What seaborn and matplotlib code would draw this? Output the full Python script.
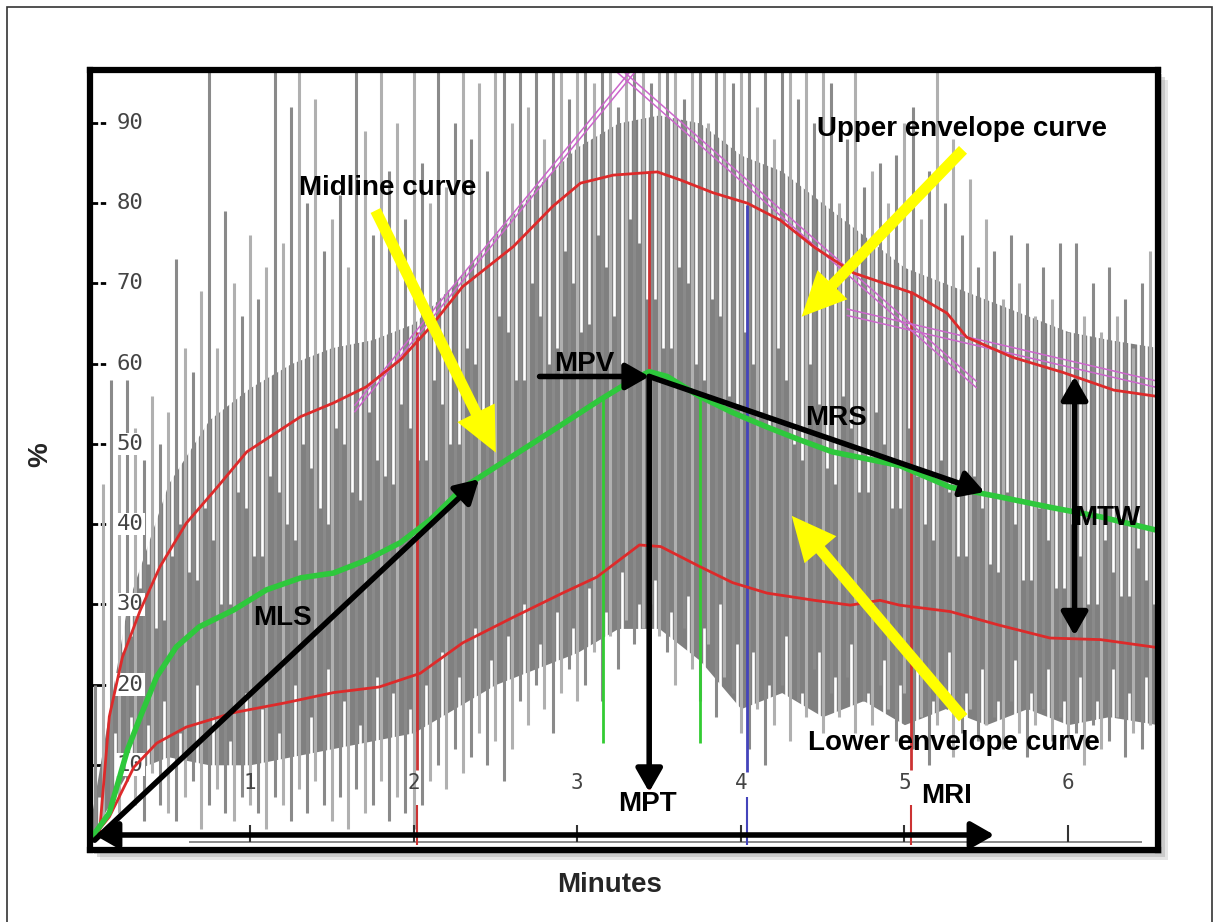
import numpy as np
import pandas as pd
import matplotlib
matplotlib.use("Agg")
import matplotlib.pyplot as plt
import seaborn as sns
from matplotlib.patches import Rectangle, FancyArrowPatch, ArrowStyle
from matplotlib.transforms import blended_transform_factory

# ---------------- data ----------------
# upper envelope curve (red)
upper_x = [0.0, 0.08, 0.14, 0.22, 0.33, 0.45, 0.61, 0.80, 0.98, 1.31, 1.51, 1.71, 1.92, 2.10, 2.30,
           2.61, 2.85, 3.02, 3.22, 3.49, 3.63, 3.83, 4.04, 4.24, 4.45, 4.69, 5.05, 5.26, 5.38, 5.66,
           5.97, 6.28, 6.55]
upper_y = [0.0, 1.5, 16.0, 23.4, 29.3, 34.7, 40.1, 44.6, 49.0, 53.4, 55.1, 57.1, 60.5, 64.5, 69.6,
           74.6, 79.6, 82.5, 83.5, 83.9, 82.9, 81.3, 80.0, 77.9, 74.5, 71.3, 68.8, 66.3, 63.3, 60.8,
           58.9, 56.7, 55.9]
# midline curve (green)
mid_x = [0.0, 0.14, 0.25, 0.33, 0.43, 0.55, 0.69, 0.90, 1.10, 1.31, 1.51, 1.71, 1.92, 2.10, 2.30,
         2.53, 2.83, 3.14, 3.34, 3.44, 3.55, 3.75, 3.95, 4.16, 4.36, 4.56, 4.97, 5.28, 5.58, 5.89,
         6.20, 6.55]
mid_y = [0.0, 4.0, 11.8, 16.0, 21.0, 24.7, 27.2, 29.3, 31.8, 33.3, 33.9, 35.5, 37.7, 40.5, 44.5,
         47.5, 51.4, 55.5, 58.0, 59.0, 58.4, 55.9, 53.9, 52.1, 50.5, 49.0, 47.3, 44.6, 43.4, 42.1,
         40.9, 39.2]
# lower envelope curve (red)
low_x = [0.0, 0.14, 0.29, 0.43, 0.61, 0.90, 1.21, 1.51, 1.79, 2.04, 2.30, 2.61, 2.91, 3.12, 3.38,
         3.51, 3.75, 3.95, 4.16, 4.45, 4.67, 4.85, 4.97, 5.28, 5.58, 5.89, 6.20, 6.55]
low_y = [0.0, 3.5, 9.7, 12.7, 14.7, 16.5, 17.7, 19.0, 19.7, 21.4, 25.2, 28.4, 31.4, 33.4, 37.4,
         37.2, 34.7, 32.7, 31.4, 30.5, 29.9, 30.5, 29.9, 29.1, 27.4, 25.8, 25.6, 24.6]

# dense grey core of the raw signal (every 0.25 min)
core_x = [0.0, 0.25, 0.5, 0.75, 1.0, 1.25, 1.5, 1.75, 2.0, 2.25, 2.5, 2.75, 3.0, 3.25, 3.5, 3.75,
          4.0, 4.25, 4.5, 4.75, 5.0, 5.25, 5.5, 5.75, 6.0, 6.25, 6.55]
core_hi = [0, 30, 45, 53, 57, 60, 62, 63, 65, 70, 76, 82, 87, 90, 91, 90, 86, 84, 80, 76, 72, 70,
           68, 66, 64, 63, 62]
core_lo = [0, 9, 11, 10, 10, 11, 12, 13, 14, 17, 20, 22, 24, 27, 27, 23, 17, 19, 16, 18, 15, 17,
           15, 17, 15, 16, 15]

# individual raw-signal spikes, one every 0.05 min from 0.05 to 6.50
spike_top = [20, 45, 58, 50, 58, 52, 48, 56, 50, 54,
             73, 62, 59, 69, 97, 62, 79, 70, 66, 76,
             68, 72, 97, 75, 92, 97, 80, 93, 74, 78,
             81, 72, 97, 89, 76, 97, 84, 90, 78, 97,
             85, 80, 97, 82, 90, 97, 88, 95, 84, 97,
             97, 90, 97, 92, 97, 88, 97, 97, 93, 97,
             97, 95, 97, 97, 92, 97, 97, 97, 95, 97,
             97, 97, 93, 97, 97, 90, 97, 97, 95, 97,
             97, 92, 97, 88, 97, 97, 93, 97, 90, 97,
             95, 80, 88, 97, 82, 84, 85, 80, 86, 90,
             92, 78, 84, 97, 80, 88, 76, 83, 72, 78,
             74, 68, 76, 70, 75, 66, 72, 68, 75, 64,
             75, 66, 70, 64, 72, 66, 68, 62, 70, 74]
spike_bot = [1, 3, 6, 4, 8, 5, 3, 9, 5, 4,
             3, 6, 8, 2, 5, 7, 4, 3, 6, 5,
             4, 2, 6, 5, 3, 7, 4, 8, 5, 3,
             6, 2, 7, 4, 5, 8, 3, 6, 4, 2,
             5, 8, 10, 7, 12, 9, 11, 14, 10, 13,
             8, 12, 18, 15, 20, 17, 14, 19, 22, 18,
             20, 24, 18, 26, 22, 28, 25, 27, 30, 26,
             24, 20, 27, 22, 18, 25, 16, 21, 19, 14,
             12, 17, 10, 15, 20, 13, 18, 16, 22, 14,
             19, 16, 21, 14, 18, 15, 20, 17, 13, 19,
             12, 16, 10, 15, 18, 11, 14, 17, 13, 15,
             16, 12, 18, 14, 11, 15, 17, 13, 16, 12,
             14, 10, 15, 12, 13, 16, 11, 14, 12, 15]
# white streaks cutting down into the grey core, one every 0.05 min from 0.075
gap_bot = [22, 18, 30, 24, 26, 32, 35, 27, 28, 36,
           40, 34, 33, 42, 38, 30, 30, 44, 42, 36,
           36, 46, 44, 40, 38, 50, 47, 42, 40, 52,
           50, 44, 43, 54, 48, 46, 45, 55, 52, 48,
           48, 58, 55, 50, 50, 62, 60, 54, 54, 66,
           64, 58, 58, 70, 66, 60, 62, 74, 70, 64,
           65, 76, 72, 66, 60, 78, 75, 68, 68, 62,
           62, 72, 70, 60, 58, 68, 66, 56, 55, 64,
           60, 54, 52, 62, 58, 50, 48, 60, 55, 47,
           45, 56, 52, 44, 44, 54, 50, 42, 42, 52,
           46, 40, 38, 48, 44, 36, 36, 46, 42, 35,
           34, 44, 40, 33, 33, 42, 38, 32, 32, 40,
           36, 30, 30, 38, 34, 31, 31, 37, 33, 30]
# white streaks rising into the grey core from below, one every 0.1 min from 0.075
gap_low = [6, 14, 16, 15, 18, 14, 20, 16, 13, 19,
           17, 14, 20, 16, 22, 18, 15, 21, 19, 17,
           20, 24, 21, 27, 23, 26, 30, 25, 29, 27,
           32, 29, 34, 30, 33, 29, 31, 27, 30, 25,
           24, 20, 26, 19, 24, 21, 25, 19, 23, 20,
           22, 18, 24, 19, 22, 18, 23, 19, 22, 18,
           21, 18, 22, 19, 21]

# straight-line fits (magenta)
fit_rise_x, fit_rise_y = [1.64, 3.42], [54.0, 98.0]
fit_fall_x, fit_fall_y = [3.15, 5.44], [98.0, 57.0]
fit_tail_x, fit_tail_y = [4.65, 6.55], [66.0, 57.0]

# event markers: (minute, bottom, top)
red_marks = [(2.02, 9.4, 64.0), (3.44, 7.0, 84.0), (5.04, 9.4, 69.0)]
green_marks = [(3.155, 12.7, 56.0), (3.75, 12.7, 55.6)]
blue_marks = [(4.04, 9.1, 79.8)]

y_ticks = [10, 20, 30, 40, 50, 60, 70, 80, 90]
x_ticks = [1, 2, 3, 4, 5, 6]

# ---------------- figure ----------------
sns.set_theme(style="white")
plt.rcParams["font.family"] = ["Liberation Sans", "DejaVu Sans"]

W, H = 1219, 922
fig = plt.figure(figsize=(W / 100, H / 100), dpi=100)
fig.patch.set_facecolor("white")

# outer frame of the figure
fig.patches.append(Rectangle((7 / W, -0.05), (1212 - 7) / W, 1.05 - 7 / H,
                             transform=fig.transFigure, fill=False, edgecolor="#333333",
                             lw=1.2, zorder=-2))
# drop shadow behind the plot box
for off, a in [(10, 0.25), (7, 0.35), (4, 0.45)]:
    fig.patches.append(Rectangle(((90 + off) / W, 1 - (850 + off) / H), (1158 - 90) / W,
                                 (850 - 70) / H, transform=fig.transFigure,
                                 facecolor="#9a9a9a", edgecolor="none", alpha=a, zorder=-1))

ax = fig.add_axes([90 / W, 1 - 850 / H, (1158 - 90) / W, (850 - 70) / H])
ax.set_facecolor("white")
ax.set_xlim(0.022, 6.55)
ax.set_ylim(-0.62, 96.6)

# raw signal
ax.fill_between(core_x, core_lo, core_hi, color="#808080", lw=0, zorder=1)
gap_x = np.round(0.075 + 0.05 * np.arange(len(gap_bot)), 3)
ax.vlines(gap_x, gap_bot, 100, color="white", lw=1.9, zorder=2)
gap_low_x = np.round(0.075 + 0.1 * np.arange(len(gap_low)), 3)
ax.vlines(gap_low_x, -1, gap_low, color="white", lw=1.9, zorder=2)
spike_x = np.round(0.05 * np.arange(1, len(spike_top) + 1), 2)
spike_cols = ["#8a8a8a" if i % 2 == 0 else "#b0b0b0" for i in range(len(spike_top))]
ax.vlines(spike_x, spike_bot, spike_top, colors=spike_cols, lw=2.2, zorder=3)

# bottom axis line and ticks of the original plot
ax.hlines(0.35, 0.63, 6.45, color="#777777", lw=1.2, zorder=4)
ax.vlines(x_ticks, 0.35, 2.5, color="#333333", lw=1.5, zorder=4)
for t in x_ticks:
    ax.text(t, 7.7, str(t), ha="center", va="center", fontsize=15,
            family="DejaVu Sans Mono", color="#444444", zorder=4)

# y ticks inside
ax.set_xticks([])
ax.set_yticks(y_ticks)
ax.set_yticklabels([])
ax.tick_params(axis="y", direction="in", length=12, width=2, color="black", left=True)
tr = blended_transform_factory(ax.transAxes, ax.transData)
for t in y_ticks:
    ax.text(0.025, t, str(t), transform=tr, ha="left", va="center", fontsize=16,
            family="DejaVu Sans Mono", color="#444444", zorder=6,
            bbox=dict(facecolor="white", edgecolor="none", pad=1.0))

# event markers
for xm, b, t in red_marks:
    ax.vlines(xm, b, t, color="#cc3333", lw=2, zorder=5)
for xm, b, t in green_marks:
    ax.vlines(xm, b, t, color="#33cc33", lw=2, zorder=5)
for xm, b, t in blue_marks:
    ax.vlines(xm, b, t, color="#4444bb", lw=2, zorder=5)
for xm in [red_marks[0][0], red_marks[2][0]]:
    ax.vlines(xm, 0, 5, color="#cc3333", lw=1.5, zorder=5)
ax.vlines(blue_marks[0][0], 0, 6, color="#4444bb", lw=1.5, zorder=5)

# magenta line fits (double thin lines)
for fx, fy in [(fit_rise_x, fit_rise_y), (fit_fall_x, fit_fall_y), (fit_tail_x, fit_tail_y)]:
    for dy in (0.0, 0.8):
        ax.plot(fx, [v + dy for v in fy], color="#cc66cc", lw=1.1, zorder=6)

# curves
sns.lineplot(x=upper_x, y=upper_y, ax=ax, color="#dd2a2a", lw=2.0, sort=False,
             estimator=None, zorder=7)
sns.lineplot(x=low_x, y=low_y, ax=ax, color="#dd2a2a", lw=2.0, sort=False,
             estimator=None, zorder=7)
sns.lineplot(x=mid_x, y=mid_y, ax=ax, color="#2ec83c", lw=4.0, sort=False,
             estimator=None, zorder=7)

# black measurement arrows
def black_arrow(p0, p1, style="-|>"):
    ax.annotate("", xy=p1, xytext=p0, zorder=9,
                arrowprops=dict(arrowstyle=style + ",head_length=0.35,head_width=0.2",
                                lw=4, color="black", mutation_scale=40,
                                shrinkA=0, shrinkB=0))

black_arrow((0.05, 0.6), (2.40, 45.6))            # MLS
black_arrow((2.77, 58.4), (3.44, 58.4))           # MPV
black_arrow((3.44, 58.4), (3.44, 6.6))            # MPT
black_arrow((3.44, 58.4), (5.49, 44.0))           # MRS
black_arrow((6.04, 26.1), (6.04, 58.4), "<|-|>")  # MTW
black_arrow((0.05, 1.25), (5.55, 1.25), "<|-|>")  # MRI

# yellow pointer arrows
ystyle = ArrowStyle.Simple(head_length=1.6, head_width=1.5, tail_width=0.4)
for p0, p1 in [((1.76, 79.4), (2.51, 48.6)),
               ((5.37, 86.9), (4.36, 65.6)),
               ((5.37, 15.6), (4.30, 41.3))]:
    ax.add_patch(FancyArrowPatch(p0, p1, arrowstyle=ystyle, mutation_scale=20,
                                 color="#ffff00", lw=0, zorder=8))

# labels
fs = 20
lab = dict(fontsize=fs, fontweight="bold", color="black", ha="center", va="center", zorder=10)
ax.text(1.84, 81.9, "Midline curve", **lab)
ax.text(5.35, 89.2, "Upper envelope curve", **lab)
ax.text(5.30, 12.7, "Lower envelope curve", **lab)
ax.text(3.04, 60.0, "MPV", **lab)
ax.text(4.58, 53.2, "MRS", **lab)
ax.text(6.24, 40.8, "MTW", **lab)
ax.text(1.20, 28.3, "MLS", **lab)
ax.text(3.43, 5.1, "MPT", **lab)
ax.text(5.26, 6.1, "MRI", **lab)

for s in ax.spines.values():
    s.set_visible(True)
    s.set_color("black")
    s.set_linewidth(4.5)
    s.set_zorder(11)

fig.text(610 / W, 1 - 885 / H, "Minutes", ha="center", va="center", fontsize=fs,
         fontweight="bold")
fig.text(40 / W, 1 - 455 / H, "%", ha="center", va="center", fontsize=fs,
         fontweight="bold", rotation=90)

fig.savefig("out.png", dpi=100, facecolor="white")
